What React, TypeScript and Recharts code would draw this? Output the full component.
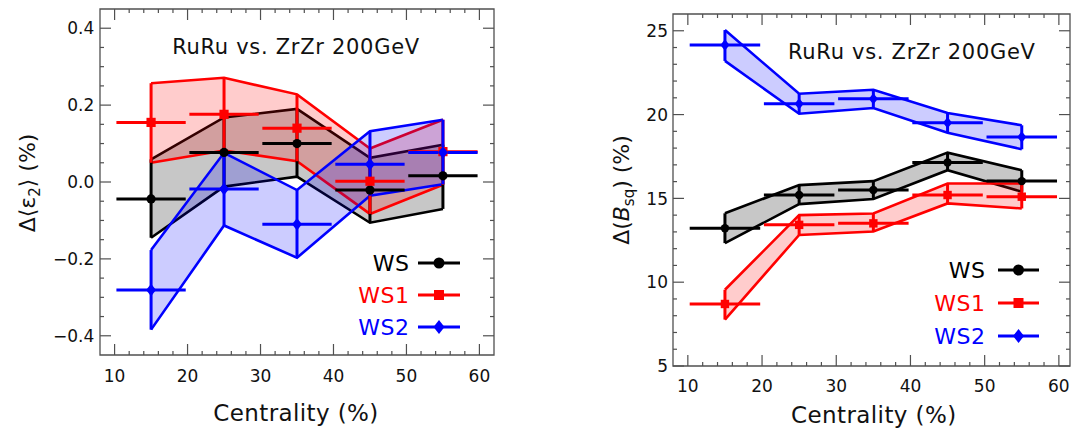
import React from 'react';
import { ComposedChart, Area, Scatter, ErrorBar, XAxis, YAxis, ReferenceArea } from 'recharts';

// ---------- data ----------
const centrality = [15, 25, 35, 45, 55];
const binHalfWidth = [4.75, 4.75, 4.75, 4.75, 4.75];

// Left panel: Δ<ε2> (%)
const epsWS = [-0.044, 0.077, 0.1, -0.021, 0.016];
const epsWSLow = [-0.145, -0.012, 0.014, -0.106, -0.07];
const epsWSHigh = [0.059, 0.168, 0.19, 0.063, 0.097];
const epsWS1 = [0.155, 0.176, 0.14, 0.002, 0.079];
const epsWS1Low = [0.05, 0.082, 0.054, -0.083, -0.007];
const epsWS1High = [0.257, 0.271, 0.228, 0.087, 0.162];
const epsWS2 = [-0.281, -0.018, -0.11, 0.046, 0.077];
const epsWS2Low = [-0.384, -0.113, -0.197, -0.036, -0.006];
const epsWS2High = [-0.177, 0.076, -0.021, 0.132, 0.162];

// Right panel: Δ(Bsq) (%)
const bsqWS = [13.22, 15.2, 15.5, 17.14, 16.03];
const bsqWSLow = [12.33, 14.66, 14.96, 16.68, 15.4];
const bsqWSHigh = [14.11, 15.79, 16.03, 17.73, 16.68];
const bsqWS1 = [8.7, 13.42, 13.51, 15.2, 15.1];
const bsqWS1Low = [7.77, 12.82, 13.02, 14.7, 14.4];
const bsqWS1High = [9.55, 14.0, 14.1, 15.89, 15.89];
const bsqWS2 = [24.15, 20.64, 20.94, 19.51, 18.66];
const bsqWS2Low = [23.2, 20.05, 20.39, 18.92, 17.93];
const bsqWS2High = [25.04, 21.24, 21.48, 20.09, 19.36];

// ticks
const xTicks = [10, 12, 14, 16, 18, 20, 22, 24, 26, 28, 30, 32, 34, 36, 38, 40, 42, 44, 46, 48, 50, 52, 54, 56, 58, 60];
const xMajorTicks = [10, 20, 30, 40, 50, 60];
const xTickLabels = ['10', '20', '30', '40', '50', '60'];

const epsYTicks = [-0.4, -0.35, -0.3, -0.25, -0.2, -0.15, -0.1, -0.05, 0, 0.05, 0.1, 0.15, 0.2, 0.25, 0.3, 0.35, 0.4];
const epsYMajor = [-0.4, -0.2, 0, 0.2, 0.4];
const epsYLabels = ['\u22120.4', '\u22120.2', '0.0', '0.2', '0.4'];

const bsqYTicks = [5, 6, 7, 8, 9, 10, 11, 12, 13, 14, 15, 16, 17, 18, 19, 20, 21, 22, 23, 24, 25];
const bsqYMajor = [5, 10, 15, 20, 25];
const bsqYLabels = ['5', '10', '15', '20', '25'];

const seriesNames = ['WS', 'WS1', 'WS2'];
const seriesColors = ['#000000', '#ff0000', '#0000ff'];
const fillOpacities = [0.22, 0.2, 0.2];

// ---------- helpers ----------
const FONT = '"DejaVu Sans", "Liberation Sans", Arial, sans-serif';
const FRAME = '#505050';

type Row = Record<string, any>;

function buildRows(centers: number[][], lows: number[][], highs: number[][]): Row[] {
  return centrality.map((x, i) => {
    const r: Row = { x, xErr: binHalfWidth[i] };
    centers.forEach((c, s) => {
      r['v' + s] = c[i];
      r['band' + s] = [lows[s][i], highs[s][i]];
      r['yErr' + s] = [c[i] - lows[s][i], highs[s][i] - c[i]];
    });
    return r;
  });
}

const epsRows = buildRows([epsWS, epsWS1, epsWS2], [epsWSLow, epsWS1Low, epsWS2Low], [epsWSHigh, epsWS1High, epsWS2High]);
const bsqRows = buildRows([bsqWS, bsqWS1, bsqWS2], [bsqWSLow, bsqWS1Low, bsqWS2Low], [bsqWSHigh, bsqWS1High, bsqWS2High]);

function majorIndex(v: number, majors: number[]) {
  return majors.findIndex((m) => Math.abs(m - v) < 1e-6);
}

function markerShape(kind: number, color: string, size: number) {
  return (props: any) => {
    const { cx, cy } = props;
    if (cx == null || cy == null) return <g />;
    if (kind === 0) return <circle cx={cx} cy={cy} r={size} fill={color} />;
    if (kind === 1) return <rect x={cx - size} y={cy - size} width={size * 2} height={size * 2} fill={color} />;
    const d = size * 1.35;
    return <polygon points={`${cx},${cy - d} ${cx + d * 0.8},${cy} ${cx},${cy + d} ${cx - d * 0.8},${cy}`} fill={color} />;
  };
}

type PanelProps = {
  rows: Row[];
  width: number;
  height: number;
  margin: { top: number; right: number; bottom: number; left: number };
  yAxisWidth: number;
  xAxisHeight: number;
  xDomain: [number, number];
  yDomain: [number, number];
  yTicks: number[];
  yMajor: number[];
  yLabels: string[];
  xLabelOffset: number;
  yLabelGap: number;
  markerSize: number;
};

function Panel(p: PanelProps) {
  const plotW = p.width - p.margin.left - p.margin.right - p.yAxisWidth;
  const plotH = p.height - p.margin.top - p.margin.bottom - p.xAxisHeight;
  const MAJ = 11;
  const MIN = 4;

  const xTick = (props: any) => {
    const { x, y, payload } = props;
    const idx = majorIndex(payload.value, xMajorTicks);
    const len = idx >= 0 ? MAJ : MIN;
    return (
      <g>
        <line x1={x} y1={y} x2={x} y2={y - len} stroke={FRAME} strokeWidth={1.2} />
        <line x1={x} y1={y - plotH} x2={x} y2={y - plotH + len} stroke={FRAME} strokeWidth={1.2} />
        {idx >= 0 && (
          <text x={x} y={y + p.xLabelOffset} textAnchor="middle" fontFamily={FONT} fontSize={17} fill="#111">
            {xTickLabels[idx]}
          </text>
        )}
      </g>
    );
  };

  const yTick = (props: any) => {
    const { x, y, payload } = props;
    const idx = majorIndex(payload.value, p.yMajor);
    const len = idx >= 0 ? MAJ : MIN;
    return (
      <g>
        <line x1={x} y1={y} x2={x + len} y2={y} stroke={FRAME} strokeWidth={1.2} />
        <line x1={x + plotW} y1={y} x2={x + plotW - len} y2={y} stroke={FRAME} strokeWidth={1.2} />
        {idx >= 0 && (
          <text x={x - p.yLabelGap} y={y + 6.2} textAnchor="end" fontFamily={FONT} fontSize={17} fill="#111">
            {p.yLabels[idx]}
          </text>
        )}
      </g>
    );
  };

  return (
    <ComposedChart width={p.width} height={p.height} data={p.rows} margin={p.margin}>
      <XAxis
        type="number"
        dataKey="x"
        domain={p.xDomain}
        allowDataOverflow
        ticks={xTicks}
        interval={0}
        tickLine={false}
        axisLine={false}
        tickSize={0}
        tickMargin={0}
        height={p.xAxisHeight}
        tick={xTick}
      />
      <YAxis
        type="number"
        domain={p.yDomain}
        allowDataOverflow
        ticks={p.yTicks}
        interval={0}
        tickLine={false}
        axisLine={false}
        tickSize={0}
        tickMargin={0}
        width={p.yAxisWidth}
        tick={yTick}
      />
      {[0, 1, 2].map((s) => (
        <Area
          key={'band' + s}
          type="linear"
          dataKey={'band' + s}
          stroke={seriesColors[s]}
          strokeWidth={2.6}
          fill={seriesColors[s]}
          fillOpacity={fillOpacities[s]}
          dot={false}
          activeDot={false}
          isAnimationActive={false}
        />
      ))}
      {[0, 1, 2].map((s) => (
        <Scatter
          key={'pts' + s}
          name={seriesNames[s]}
          data={p.rows}
          dataKey={'v' + s}
          fill={seriesColors[s]}
          shape={markerShape(s, seriesColors[s], p.markerSize)}
          isAnimationActive={false}
        >
          <ErrorBar dataKey="xErr" direction="x" width={0} stroke={seriesColors[s]} strokeWidth={3} isAnimationActive={false} />
          <ErrorBar dataKey={'yErr' + s} direction="y" width={0} stroke={seriesColors[s]} strokeWidth={3} isAnimationActive={false} />
        </Scatter>
      ))}
      <ReferenceArea
        x1={p.xDomain[0]}
        x2={p.xDomain[1]}
        y1={p.yDomain[0]}
        y2={p.yDomain[1]}
        fill="none"
        stroke={FRAME}
        strokeWidth={1.3}
        ifOverflow="visible"
      />
    </ComposedChart>
  );
}

function LegendBlock({ textEnd, lineStart, lineEnd, ys }: { textEnd: number; lineStart: number; lineEnd: number; ys: number[] }) {
  const mid = (lineStart + lineEnd) / 2;
  return (
    <g>
      {seriesNames.map((n, s) => {
        const y = ys[s];
        const c = seriesColors[s];
        let marker;
        if (s === 0) marker = <circle cx={mid} cy={y} r={5.5} fill={c} />;
        else if (s === 1) marker = <rect x={mid - 5} y={y - 5} width={10} height={10} fill={c} />;
        else marker = <polygon points={`${mid},${y - 7} ${mid + 5.5},${y} ${mid},${y + 7} ${mid - 5.5},${y}`} fill={c} />;
        return (
          <g key={n}>
            <text x={textEnd} y={y + 7.9} textAnchor="end" fontFamily={FONT} fontSize={22} letterSpacing={0.5} fill={c}>
              {n}
            </text>
            <line x1={lineStart} y1={y} x2={lineEnd} y2={y} stroke={c} strokeWidth={3.2} />
            {marker}
          </g>
        );
      })}
    </g>
  );
}

export default function App() {
  return (
    <div style={{ position: 'absolute', left: 0, top: 0, width: 1075, height: 437, background: '#fff', overflow: 'hidden' }}>
      <div style={{ position: 'absolute', left: 0, top: 0 }}>
        <Panel
          rows={epsRows}
          width={540}
          height={437}
          margin={{ top: 9, right: 46, bottom: 0, left: 0 }}
          yAxisWidth={100}
          xAxisHeight={82}
          xDomain={[8, 62]}
          yDomain={[-0.45, 0.45]}
          yTicks={epsYTicks}
          yMajor={epsYMajor}
          yLabels={epsYLabels}
          xLabelOffset={27.4}
          yLabelGap={5.7}
          markerSize={4.6}
        />
      </div>
      <div style={{ position: 'absolute', left: 540, top: 0 }}>
        <Panel
          rows={bsqRows}
          width={535}
          height={437}
          margin={{ top: 14, right: 5, bottom: 0, left: 0 }}
          yAxisWidth={133}
          xAxisHeight={71}
          xDomain={[8, 61.5]}
          yDomain={[5, 26]}
          yTicks={bsqYTicks}
          yMajor={bsqYMajor}
          yLabels={bsqYLabels}
          xLabelOffset={26}
          yLabelGap={5}
          markerSize={4.2}
        />
      </div>
      <svg width={1075} height={437} style={{ position: 'absolute', left: 0, top: 0, pointerEvents: 'none' }}>
        {/* titles */}
        <text x={296} y={54.3} textAnchor="middle" fontFamily={FONT} fontSize={21} letterSpacing={0.7} fill="#111">
          RuRu vs. ZrZr 200GeV
        </text>
        <text x={911.8} y={59.3} textAnchor="middle" fontFamily={FONT} fontSize={21} letterSpacing={0.7} fill="#111">
          RuRu vs. ZrZr 200GeV
        </text>
        {/* x axis labels */}
        <text x={296} y={421.3} textAnchor="middle" fontFamily={FONT} fontSize={23} letterSpacing={0.4} fill="#111">
          Centrality (%)
        </text>
        <text x={873.8} y={423.3} textAnchor="middle" fontFamily={FONT} fontSize={23} letterSpacing={0.4} fill="#111">
          Centrality (%)
        </text>
        {/* y axis labels */}
        <text transform="translate(35.4,183) rotate(-90)" textAnchor="middle" fontFamily={FONT} fontSize={22} fill="#111">
          <tspan>{'\u0394\u27e8\u03b5'}</tspan>
          <tspan dy={5} fontSize={15}>2</tspan>
          <tspan dy={-5}>{'\u27e9 (%)'}</tspan>
        </text>
        <text transform="translate(629,190) rotate(-90)" textAnchor="middle" fontFamily={FONT} fontSize={22} fill="#111">
          <tspan>{'\u0394('}</tspan>
          <tspan fontStyle="italic">B</tspan>
          <tspan dy={5} fontSize={15}>sq</tspan>
          <tspan dy={-5}>{') (%)'}</tspan>
        </text>
        {/* legends */}
        <LegendBlock textEnd={409.5} lineStart={418} lineEnd={460} ys={[263, 295, 327]} />
        <LegendBlock textEnd={985.5} lineStart={998} lineEnd={1039} ys={[270, 303, 336]} />
      </svg>
    </div>
  );
}
